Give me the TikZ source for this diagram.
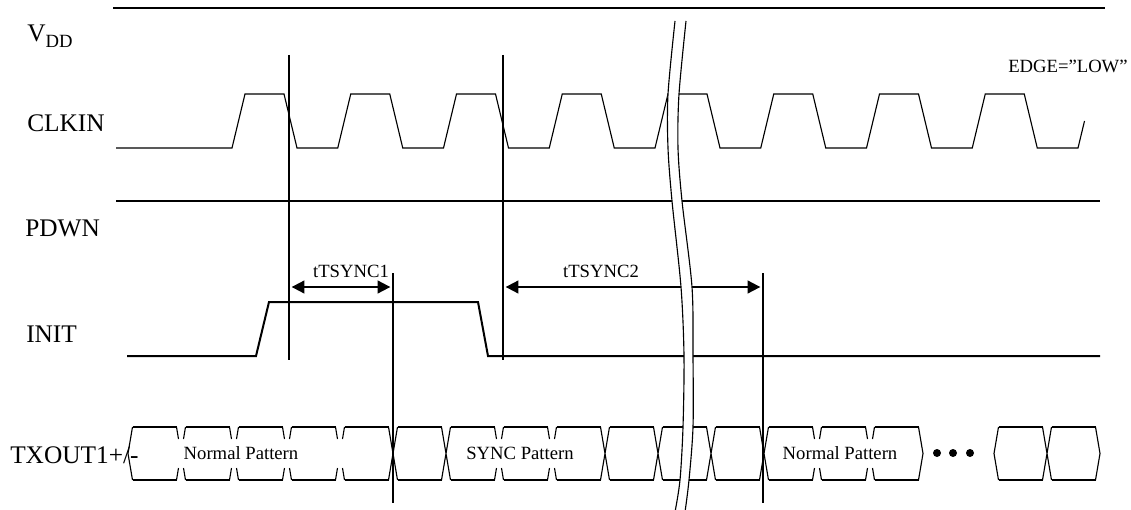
\documentclass[tikz,border=0pt]{standalone}
\usepackage{fontspec}
\setmainfont{Liberation Serif}
\usetikzlibrary{arrows.meta}

\tikzset{
    sig/.style={line width=1.5pt},
    wave/.style={line width=0.85pt},
    siglabel/.style={anchor=base west, inner sep=0pt, font=\fontsize{19}{22}\selectfont},
    smalllabel/.style={anchor=base, inner sep=0pt, font=\fontsize{14}{16}\selectfont},
    dimarrow/.style={sig, {Triangle[length=9.5pt,width=9.5pt]}-{Triangle[length=9.5pt,width=9.5pt]}, shorten <=2pt, shorten >=2pt}
}

\begin{document}
\begin{tikzpicture}[x=0.75pt, y=-0.75pt]
    \useasboundingbox (0,0) rectangle (1131,510);

    % Signal names
    \node[siglabel] (vdd) at (27,42) {V\raisebox{-4.5pt}{\fontsize{14}{16}\selectfont DD}};
    \node[siglabel] (clkin) at (27,131) {CLKIN};
    \node[siglabel] (pdwn) at (25,236) {PDWN};
    \node[siglabel] (init) at (26,342) {INIT};
    \node[siglabel] (txout) at (10,463) {TXOUT1+/-};
    \node[smalllabel, anchor=base west] (edge) at (1008,73) {EDGE=”LOW”};

    % Draw the supply, power down and init levels
    \draw[sig] (113,8) -- (1105,8);
    \draw[sig] (116,201) -- (1100,201);
    \draw[sig] (127,356) -- (256,356) -- (269,302) -- (478,302) -- (488,356) -- (1100,356);

    % Draw the clock
    \draw[wave] (116,148) -- (232,148)
        \foreach \k in {1,...,8} { -- ++(13,-54) -- ++(39,0) -- ++(13,54) -- ++(40.75,0) }
        -- ++(6.5,-27);

    % Timing markers
    \coordinate (a top) at (289,55);  \coordinate (a bot) at (289,360);
    \coordinate (b top) at (503,55);  \coordinate (b bot) at (503,360);
    \coordinate (c top) at (393,273); \coordinate (c bot) at (393,503);
    \coordinate (d top) at (763,273); \coordinate (d bot) at (763,503);
    \draw[sig] (a top) -- (a bot);
    \draw[sig] (b top) -- (b bot);
    \draw[sig] (c top) -- (c bot);
    \draw[sig] (d top) -- (d bot);

    % Sync times
    \coordinate (t1l) at (289,287); \coordinate (t1r) at (393,287);
    \coordinate (t2l) at (503,287); \coordinate (t2r) at (763,287);
    \draw[dimarrow] (t1l) -- (t1r);
    \draw[dimarrow] (t2l) -- (t2r);
    \node[smalllabel] (tsync1) at (351,277) {tTSYNC1};
    \node[smalllabel] (tsync2) at (601,277) {tTSYNC2};

    % Draw the TXOUT1 data cells
    \foreach \c in {128,181,...,870,994,1047}
        \draw[wave] (\c+4.5,427) -- (\c+48.5,427) (\c+4.5,480) -- (\c+48.5,480);
    \foreach \c in {128,994}
        \draw[wave] (\c+4.5,427) -- (\c,453.5) -- (\c+4.5,480);
    \foreach \c in {923,1100}
        \draw[wave] (\c-4.5,427) -- (\c,453.5) -- (\c-4.5,480);
    \foreach \c in {393,446,605,658,711,764,1047}
        \draw[wave] (\c-4.5,427) -- (\c+4.5,480) (\c-4.5,480) -- (\c+4.5,427);
    \foreach \c in {181,234,287,340,499,552,817,870}
        \draw[wave] (\c-4.5,427) -- (\c-2.5,439) (\c+4.5,427) -- (\c+2.5,439)
                    (\c-4.5,480) -- (\c-2.5,468) (\c+4.5,480) -- (\c+2.5,468);
    \foreach \d in {937,953,970}
        \fill (\d,453) circle (3pt);
    \node[smalllabel] (normal1) at (241,459) {Normal Pattern};
    \node[smalllabel] (sync) at (520,459) {SYNC Pattern};
    \node[smalllabel] (normal2) at (840,459) {Normal Pattern};

    % Break in the time axis
    \fill[white] plot[smooth] coordinates {(675,21) (668,94) (668,148) (672,201) (681,287) (684,356) (683,427) (680,480) (675,512)}
        -- plot[smooth] coordinates {(685,512) (689,480) (693,427) (693,356) (692,287) (682,201) (678,148) (679,94) (686,21)} -- cycle;
    \draw[wave] plot[smooth] coordinates {(675,21) (668,94) (668,148) (672,201) (681,287) (684,356) (683,427) (680,480) (675,512)};
    \draw[wave] plot[smooth] coordinates {(686,21) (679,94) (678,148) (682,201) (692,287) (693,356) (693,427) (689,480) (685,512)};

\end{tikzpicture}
\end{document}
